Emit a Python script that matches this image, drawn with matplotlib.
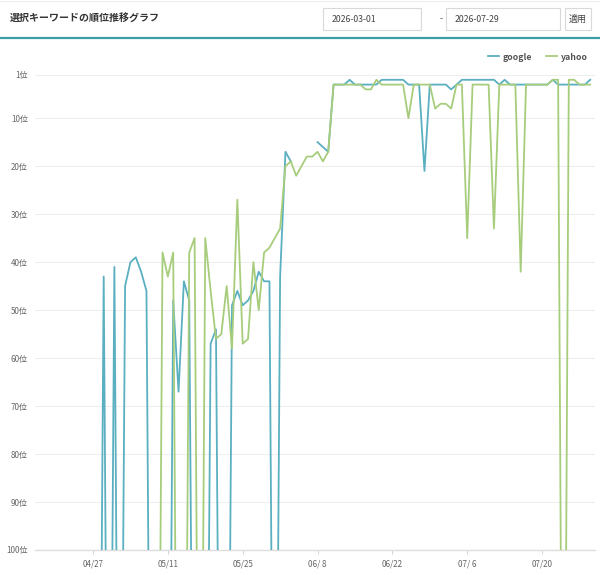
#!/usr/bin/env python3
import numpy as np
import pandas as pd
import matplotlib
matplotlib.use("Agg")
import matplotlib.pyplot as plt
import matplotlib.dates as mdates
from matplotlib.patches import Rectangle
from matplotlib.lines import Line2D

plt.rcParams["font.family"] = ["Noto Sans CJK JP", "DejaVu Sans"]

# --- data (daily ranks, OUT = out of ranking, nan = no data) ---
OUT = 200
NA = np.nan
start_date = "2026-04-27"
end_date = "2026-07-29"

google = [
  OUT, OUT, 43, OUT,
  41, OUT, 45, 40, 39, 42, 46, OUT, OUT, OUT, OUT, 48, 67, 44, 48, OUT,
  OUT, OUT, 57, 54, OUT, OUT, 49, 46, 49, 48, 46, 42, 44, 44, OUT,
  43, 17, 19, NA, NA, NA, NA, 15, 16, 17, 3, 3, 3, 2, 3,
  3, 3, 3, 3, 2, 2, 2, 2, 2, 3, 3, 3, 21, 3, 3,
  3, 3, 4, 3, 2, 2, 2, 2, 2, 2, 2, 3, 2, 3, 3,
  3, 3, 3, 3, 3, 3, 2, 3, 3, 3, 3, 3, 3, 2,
]
yahoo = [
  OUT, OUT, OUT, OUT,
  OUT, OUT, OUT, OUT, OUT, OUT, OUT, OUT, OUT, 38, 43, 38, OUT, OUT, 38, 35,
  OUT, 35, 46, 56, 55, 45, 58, 27, 57, 56, 40, 50, 38, 37, 35,
  33, 20, 19, 22, 20, 18, 18, 17, 19, 17, 3, 3, 3, 3, 3,
  3, 4, 4, 2, 3, 3, 3, 3, 3, 10, 3, 3, 3, 3, 8,
  7, 7, 8, 3, 3, 35, 3, 3, 3, 3, 33, 3, 3, 3, 3,
  42, 3, 3, 3, 3, 3, 2, 2, OUT, 2, 2, 3, 3, 3,
]
rank_ticks = [1, 10, 20, 30, 40, 50, 60, 70, 80, 90, 100]
date_ticks = ["2026-04-27", "2026-05-11", "2026-05-25", "2026-06-08",
              "2026-06-22", "2026-07-06", "2026-07-20"]

title = "選択キーワードの順位推移グラフ"
date_from = "2026-03-01"
date_to = "2026-07-29"
apply_label = "適用"

google_color = "#5aafc1"
yahoo_color = "#a7cd7c"

dates = pd.date_range(start_date, end_date, freq="D")

W, H = 600, 575
fig = plt.figure(figsize=(W / 100, H / 100), dpi=100)

def fx(px):
  return px / W

def fy(py):
  return 1 - py / H

# --- header ---
fig.text(fx(10), fy(19), title, fontsize=7.2, fontweight="bold",
         color="#333333", va="center", ha="left")

def box(x0, x1, label, center=False):
  r = Rectangle((fx(x0), fy(30)), fx(x1) - fx(x0), fy(8) - fy(30),
                transform=fig.transFigure, facecolor="white",
                edgecolor="#d9d9d9", linewidth=0.8)
  fig.patches.append(r)
  if center:
    fig.text(fx((x0 + x1) / 2), fy(19), label, fontsize=6.5, color="#444444",
             ha="center", va="center")
  else:
    fig.text(fx(x0 + 9), fy(19), label, fontsize=6.3, color="#444444",
             ha="left", va="center")

box(323, 421, date_from)
fig.text(fx(441), fy(19), "-", fontsize=6.5, color="#555555", ha="center", va="center")
box(446, 560, date_to)
box(565, 591, apply_label, center=True)

fig.add_artist(Line2D([0, 1], [fy(38), fy(38)], transform=fig.transFigure,
                      color="#3d9ea5", linewidth=1.6))
fig.add_artist(Line2D([0, 1], [fy(0.5), fy(0.5)], transform=fig.transFigure,
                      color="#eeeeee", linewidth=0.8))

# --- chart ---
ax = fig.add_axes([fx(35), fy(550), fx(595) - fx(35), fy(75) - fy(550)])
ax.plot(dates, google, color=google_color, linewidth=1.3,
        solid_joinstyle="round", label="google", zorder=3)
ax.plot(dates, yahoo, color=yahoo_color, linewidth=1.3,
        solid_joinstyle="round", label="yahoo", zorder=4)

ax.set_ylim(100, 1)
ax.set_yticks(rank_ticks)
ax.set_yticklabels([f"{v}位" for v in rank_ticks])
ax.set_xlim(dates[0] - pd.Timedelta(days=10.85), dates[0] + pd.Timedelta(days=93.9))
tick_dates = pd.to_datetime(date_ticks)
ax.set_xticks(tick_dates)
ax.set_xticklabels([f"{d.month:02d}/{d.day:2d}" for d in tick_dates])

ax.grid(axis="y", color="#eeeeee", linewidth=0.8)
ax.set_axisbelow(True)
for s in ["top", "right", "left"]:
  ax.spines[s].set_visible(False)
ax.spines["bottom"].set_color("#dddddd")
ax.spines["bottom"].set_linewidth(1.0)
ax.tick_params(axis="y", length=0, pad=5, labelsize=5.8, labelcolor="#666666")
ax.tick_params(axis="x", length=3, width=0.6, color="#cccccc", pad=4,
               labelsize=5.8, labelcolor="#666666")

leg = ax.legend(loc="center right", bbox_to_anchor=(fx(596), fy(57)),
                bbox_transform=fig.transFigure, ncol=2, frameon=False,
                handlelength=1.2, handletextpad=0.5, columnspacing=1.6,
                prop={"weight": "bold", "size": 6.3})
for t in leg.get_texts():
  t.set_color("#555555")

fig.savefig("out.png", dpi=100)
